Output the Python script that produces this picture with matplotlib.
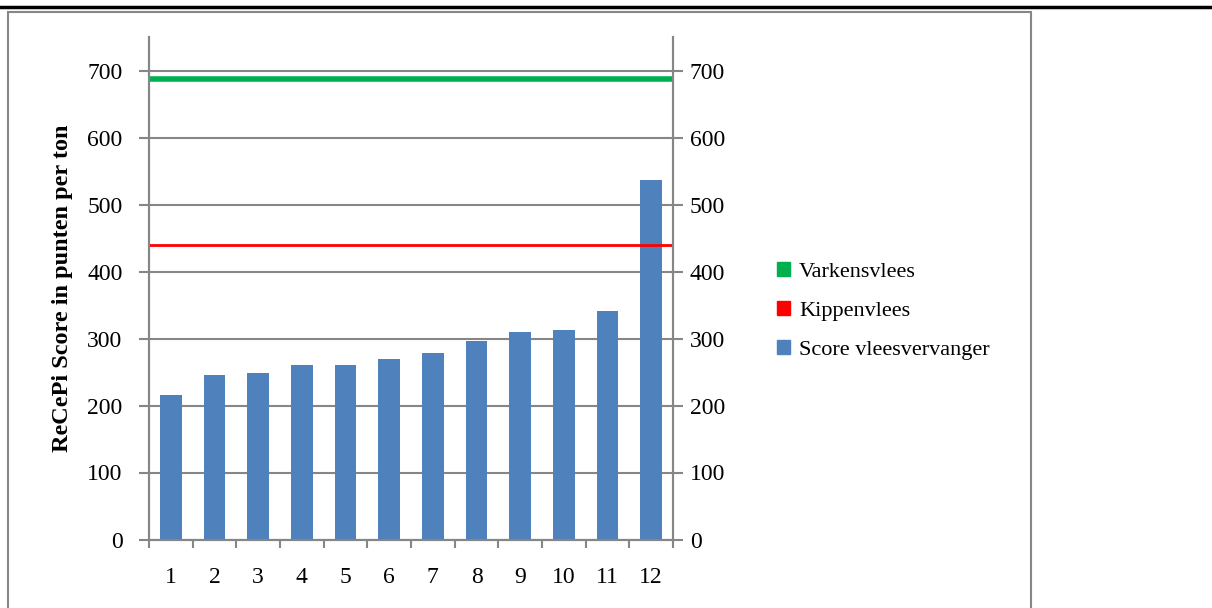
import numpy as np
import matplotlib.pyplot as plt
from matplotlib.patches import Rectangle
from matplotlib.lines import Line2D

# data
categories = [str(i) for i in range(1, 13)]
scores = [216, 246, 248, 261, 261, 269, 279, 296, 309, 312, 341, 536]
varkensvlees = 688
kippenvlees = 440

legend_labels = ['Varkensvlees', 'Kippenvlees', 'Score vleesvervanger']
legend_colors = ['#00B050', '#FF0000', '#4F81BD']

plt.rcParams['font.family'] = ['Liberation Serif', 'DejaVu Serif']
grey = '#868686'

fig = plt.figure(figsize=(12.12, 6.08), dpi=100)
W, H = 1212, 608

# outer chart frame and top rule line
fig.add_artist(Rectangle((8 / W, -0.05), (1031 - 8) / W, 1.05 - 12 / H,
                         transform=fig.transFigure, fill=False,
                         edgecolor=grey, linewidth=1.5))
fig.add_artist(Line2D([0, 1], [1 - 7 / H, 1 - 7 / H], transform=fig.transFigure,
                      color='black', linewidth=2.5))

ax = fig.add_axes([149 / W, 1 - 539.5 / H, (673 - 149) / W, (539.5 - 37) / H])
x = np.arange(1, 13)
ax.bar(x, scores, width=0.5, color=legend_colors[2], zorder=3)
ax.plot([0.5, 12.5], [varkensvlees] * 2, color=legend_colors[0], linewidth=4, zorder=4,
        solid_capstyle='butt')
ax.plot([0.5, 12.5], [kippenvlees] * 2, color=legend_colors[1], linewidth=2, zorder=4,
        solid_capstyle='butt')

ax.set_xlim(0.5, 12.5)
ax.set_ylim(0, 750)
ax.set_yticks(range(0, 701, 100))
ax.set_xticks(x)
ax.set_xticklabels(categories)
ax.set_xticks(np.arange(0.5, 12.6, 1), minor=True)
ax.yaxis.grid(True, color=grey, linewidth=1.5, zorder=0)
ax.set_axisbelow(True)

ax2 = ax.twinx()
ax2.set_ylim(0, 750)
ax2.set_yticks(range(0, 701, 100))

for a in (ax, ax2):
    a.spines['top'].set_visible(False)
    for s in ['left', 'right', 'bottom']:
        a.spines[s].set_color(grey)
        a.spines[s].set_linewidth(1.5)

ax.tick_params(axis='x', which='major', length=0, pad=20, labelsize=17)
ax.tick_params(axis='x', which='minor', length=6, width=1.5, color=grey, direction='out')
ax.tick_params(axis='y', length=7, width=1.5, color=grey, direction='out',
               labelsize=17, pad=12)
ax2.tick_params(axis='y', length=7, width=1.5, color=grey, direction='out',
                labelsize=17, pad=5)

ax.set_ylabel('ReCePi Score in punten per ton', fontsize=17.5, fontweight='bold', labelpad=10)

handles = [Rectangle((0, 0), 1, 1, color=c) for c in legend_colors]
fig.legend(handles, legend_labels, loc='center left',
           bbox_to_anchor=(757 / W, 1 - 311 / H), frameon=False, fontsize=16,
           handlelength=0.6, handleheight=0.6, handletextpad=0.4, labelspacing=0.85)

fig.savefig('out.png', dpi=100)
